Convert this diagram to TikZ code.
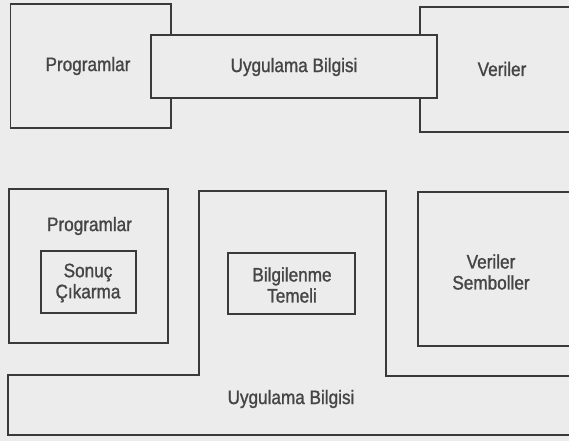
\documentclass[tikz,border=0pt]{standalone}
\usepackage{fontspec}
\setmainfont{Liberation Sans}[FakeStretch=0.88,FakeBold=1.2]
\definecolor{paper}{HTML}{ECECEC}
\definecolor{ink}{HTML}{3A3A3A}
\definecolor{txt}{HTML}{454545}
\begin{document}
\begin{tikzpicture}[x=1pt,y=-1pt,
  frame/.style={draw=ink,line width=1.8pt},
  lbl/.style={text=txt,font=\fontsize{19.5}{21}\selectfont,align=center,inner sep=0pt}]
\fill[paper] (0,0) rectangle (569,441);
\useasboundingbox (0,0) rectangle (569,441);
\begin{scope}
\clip (0,0) rectangle (569,441);
% top row
\draw[frame] (10.5,4) rectangle (171,128);
\draw[frame] (420,7) rectangle (590,132);
\draw[frame,fill=paper] (151,35) rectangle (437,98);
\node[lbl] (p1) at (88,66) {Programlar};
\node[lbl] (u1) at (294,67) {Uygulama Bilgisi};
\node[lbl] (v1) at (502,69) {Veriler};
% bottom
\draw[frame] (9,189) rectangle (168,343);
\draw[frame] (41,251) rectangle (136,313);
\draw[frame] (199,191) -- (386,191) -- (386,376) -- (590,376) -- (590,435) -- (8,435) -- (8,375) -- (199,375) -- cycle;
\draw[frame] (228,253) rectangle (355,314);
\draw[frame] (418,192) rectangle (590,346);
\node[lbl] (p2) at (89.5,226) {Programlar};
\node[lbl] (s2) at (88,283) {Sonuç\\Çıkarma};
\node[lbl] (b2) at (292,285) {Bilgilenme\\Temeli};
\node[lbl] (v2) at (491,272) {Veriler\\Semboller};
\node[lbl] (u2) at (291,399) {Uygulama Bilgisi};
\end{scope}
\end{tikzpicture}
\end{document}
